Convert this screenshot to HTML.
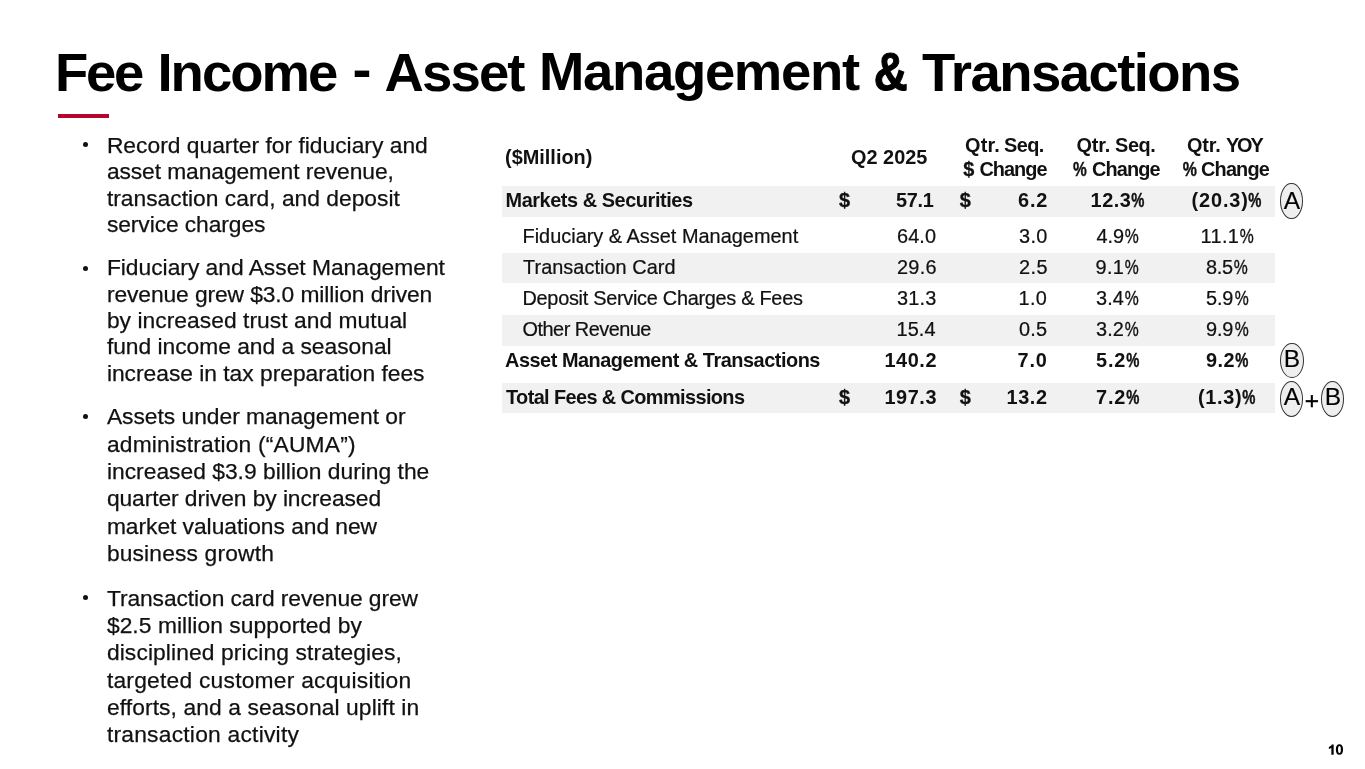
<!DOCTYPE html>
<html lang="en"><head><meta charset="utf-8"><title>Fee Income - Asset Management &amp; Transactions</title>
<style>
html,body{margin:0;padding:0;background:#fff;}
body{width:1365px;height:769px;overflow:hidden;font-family:"Liberation Sans",sans-serif;}
#s{position:absolute;left:0;top:0;width:1365px;height:769px;overflow:hidden;background:#fff;will-change:transform;}
.t{position:absolute;white-space:pre;margin:0;padding:0;}
.g{position:absolute;background:#f1f1f1;}
.dot{position:absolute;width:5px;height:5px;border-radius:50%;background:#111;}
.bar{position:absolute;left:58px;top:114px;width:51px;height:4px;background:#b5052d;}
.e{position:absolute;box-sizing:border-box;border:1.3px solid #333;border-radius:50%;background:#eee;}
</style></head><body><div id="s">
<div class="g" style="left:502px;top:185.9px;width:772.8px;height:30.9px"></div>
<div class="g" style="left:502px;top:252.8px;width:772.8px;height:30.6px"></div>
<div class="g" style="left:502px;top:315.4px;width:772.8px;height:30.6px"></div>
<div class="g" style="left:502px;top:382.8px;width:772.8px;height:29.9px"></div>
<div class="bar"></div>
<div class="dot" style="left:82.9px;top:142px"></div>
<div class="dot" style="left:82.9px;top:265.8px"></div>
<div class="dot" style="left:82.9px;top:413.8px"></div>
<div class="dot" style="left:82.9px;top:595.2px"></div>
<div class="e" style="left:1280.2px;top:183.1px;width:22.4px;height:35.8px"></div>
<div class="e" style="left:1280.2px;top:342.9px;width:23.6px;height:35.4px"></div>
<div class="e" style="left:1279.9px;top:381.1px;width:23.2px;height:35.8px"></div>
<div class="e" style="left:1321.1px;top:381.2px;width:23px;height:35.6px"></div>
<svg style="position:absolute;left:1324px;top:740px" width="24" height="20" viewBox="1324 740 24 20"><path d="M1331.35 744.4h2.3v10.3h-2.3v-7.0c-.7.6-1.5 1.0-2.5 1.3v-1.9c.6-.2 1.2-.5 1.8-1.0.5-.5.9-1.0 1.1-1.7z" fill="#000"/><path fill-rule="evenodd" fill="#000" d="M1339.45 744.25c2.45 0 3.6 1.95 3.6 5.3s-1.2 5.3-3.6 5.3-3.6-1.95-3.6-5.3 1.15-5.3 3.6-5.3zm0 1.75c-1.0 0-1.4 1.2-1.4 3.55s.4 3.55 1.4 3.55 1.4-1.2 1.4-3.55-.4-3.55-1.4-3.55z"/></svg>
<div class="t" style="left:55px;top:40px;font-size:54.5px;line-height:65px;font-weight:700;color:#000;letter-spacing:-2.331px;">Fee</div>
<div class="t" style="left:157.5px;top:40px;font-size:54.5px;line-height:65px;font-weight:700;color:#000;letter-spacing:-2.023px;">Income</div>
<div class="t" style="left:353.25px;top:37px;font-size:54.5px;line-height:65px;font-weight:700;color:#000;transform:scaleX(1.045);">-</div>
<div class="t" style="left:384.5px;top:40px;font-size:54.5px;line-height:65px;font-weight:700;color:#000;letter-spacing:-1.862px;">Asset</div>
<div class="t" style="left:539px;top:39px;font-size:54.5px;line-height:65px;font-weight:700;color:#000;letter-spacing:-1.344px;">Management</div>
<div class="t" style="left:870.5px;top:39px;font-size:54.5px;line-height:65px;font-weight:700;color:#000;transform:scaleX(0.861);-webkit-text-stroke:1.14px #000;">&amp;</div>
<div class="t" style="left:922px;top:40px;font-size:54.5px;line-height:65px;font-weight:700;color:#000;letter-spacing:-1.554px;">Transactions</div>
<div class="t" style="left:106.9px;top:132px;font-size:22.8px;line-height:27px;font-weight:400;color:#111;letter-spacing:0.009px;-webkit-text-stroke:0.25px #111;">Record quarter for fiduciary and</div>
<div class="t" style="left:106.9px;top:158px;font-size:22.8px;line-height:27px;font-weight:400;color:#111;letter-spacing:-0.083px;-webkit-text-stroke:0.25px #111;">asset management revenue,</div>
<div class="t" style="left:106.9px;top:185px;font-size:22.8px;line-height:27px;font-weight:400;color:#111;letter-spacing:0.007px;-webkit-text-stroke:0.25px #111;">transaction card, and deposit</div>
<div class="t" style="left:106.9px;top:211px;font-size:22.8px;line-height:27px;font-weight:400;color:#111;letter-spacing:-0.079px;-webkit-text-stroke:0.25px #111;">service charges</div>
<div class="t" style="left:106.9px;top:254px;font-size:22.8px;line-height:27px;font-weight:400;color:#111;letter-spacing:-0.010px;-webkit-text-stroke:0.25px #111;">Fiduciary and Asset Management</div>
<div class="t" style="left:106.9px;top:281px;font-size:22.8px;line-height:27px;font-weight:400;color:#111;letter-spacing:-0.090px;-webkit-text-stroke:0.25px #111;">revenue grew $3.0 million driven</div>
<div class="t" style="left:106.9px;top:307px;font-size:22.8px;line-height:27px;font-weight:400;color:#111;letter-spacing:0.044px;-webkit-text-stroke:0.25px #111;">by increased trust and mutual</div>
<div class="t" style="left:106.9px;top:333px;font-size:22.8px;line-height:27px;font-weight:400;color:#111;letter-spacing:-0.017px;-webkit-text-stroke:0.25px #111;">fund income and a seasonal</div>
<div class="t" style="left:106.9px;top:360px;font-size:22.8px;line-height:27px;font-weight:400;color:#111;letter-spacing:-0.015px;-webkit-text-stroke:0.25px #111;">increase in tax preparation fees</div>
<div class="t" style="left:106.9px;top:403px;font-size:22.8px;line-height:27px;font-weight:400;color:#111;letter-spacing:-0.014px;-webkit-text-stroke:0.25px #111;">Assets under management or</div>
<div class="t" style="left:106.9px;top:431px;font-size:22.8px;line-height:27px;font-weight:400;color:#111;letter-spacing:0.191px;-webkit-text-stroke:0.25px #111;">administration (“AUMA”)</div>
<div class="t" style="left:106.9px;top:458px;font-size:22.8px;line-height:27px;font-weight:400;color:#111;letter-spacing:0.015px;-webkit-text-stroke:0.25px #111;">increased $3.9 billion during the</div>
<div class="t" style="left:106.9px;top:485px;font-size:22.8px;line-height:27px;font-weight:400;color:#111;letter-spacing:-0.078px;-webkit-text-stroke:0.25px #111;">quarter driven by increased</div>
<div class="t" style="left:106.9px;top:513px;font-size:22.8px;line-height:27px;font-weight:400;color:#111;letter-spacing:-0.041px;-webkit-text-stroke:0.25px #111;">market valuations and new</div>
<div class="t" style="left:106.9px;top:540px;font-size:22.8px;line-height:27px;font-weight:400;color:#111;letter-spacing:0.156px;-webkit-text-stroke:0.25px #111;">business growth</div>
<div class="t" style="left:106.9px;top:585px;font-size:22.8px;line-height:27px;font-weight:400;color:#111;letter-spacing:-0.081px;-webkit-text-stroke:0.25px #111;">Transaction card revenue grew</div>
<div class="t" style="left:106.9px;top:612px;font-size:22.8px;line-height:27px;font-weight:400;color:#111;letter-spacing:0.062px;-webkit-text-stroke:0.25px #111;">$2.5 million supported by</div>
<div class="t" style="left:106.9px;top:639px;font-size:22.8px;line-height:27px;font-weight:400;color:#111;letter-spacing:0.116px;-webkit-text-stroke:0.25px #111;">disciplined pricing strategies,</div>
<div class="t" style="left:106.9px;top:667px;font-size:22.8px;line-height:27px;font-weight:400;color:#111;letter-spacing:0.232px;-webkit-text-stroke:0.25px #111;">targeted customer acquisition</div>
<div class="t" style="left:106.9px;top:694px;font-size:22.8px;line-height:27px;font-weight:400;color:#111;letter-spacing:0.109px;-webkit-text-stroke:0.25px #111;">efforts, and a seasonal uplift in</div>
<div class="t" style="left:106.9px;top:721px;font-size:22.8px;line-height:27px;font-weight:400;color:#111;letter-spacing:0.234px;-webkit-text-stroke:0.25px #111;">transaction activity</div>
<div class="t" style="left:505px;top:145px;font-size:19.9px;line-height:24px;font-weight:700;color:#111;letter-spacing:0.011px;">($Million)</div>
<div class="t" style="left:505.5px;top:188px;font-size:19.9px;line-height:24px;font-weight:700;color:#111;letter-spacing:-0.433px;">Markets &amp; Securities</div>
<div class="t" style="left:522.5px;top:224px;font-size:19.9px;line-height:24px;font-weight:400;color:#111;letter-spacing:0.015px;-webkit-text-stroke:0.22px #111;">Fiduciary &amp; Asset Management</div>
<div class="t" style="left:523px;top:255px;font-size:19.9px;line-height:24px;font-weight:400;color:#111;letter-spacing:0.049px;-webkit-text-stroke:0.22px #111;">Transaction Card</div>
<div class="t" style="left:522.5px;top:286px;font-size:19.9px;line-height:24px;font-weight:400;color:#111;letter-spacing:-0.282px;-webkit-text-stroke:0.22px #111;">Deposit Service Charges &amp; Fees</div>
<div class="t" style="left:522.5px;top:317px;font-size:19.9px;line-height:24px;font-weight:400;color:#111;letter-spacing:-0.499px;-webkit-text-stroke:0.22px #111;">Other Revenue</div>
<div class="t" style="left:505px;top:348px;font-size:19.9px;line-height:24px;font-weight:700;color:#111;letter-spacing:-0.467px;">Asset Management &amp; Transactions</div>
<div class="t" style="left:506px;top:385px;font-size:19.9px;line-height:24px;font-weight:700;color:#111;letter-spacing:-0.598px;">Total Fees &amp; Commissions</div>
<div class="t" style="left:851px;top:145px;font-size:19.9px;line-height:24px;font-weight:700;color:#111;letter-spacing:0.012px;">Q2 2025</div>
<div class="t" style="left:965px;top:133px;font-size:19.9px;line-height:24px;font-weight:700;color:#111;letter-spacing:0.181px;">Qtr.</div>
<div class="t" style="left:1004px;top:133px;font-size:19.9px;line-height:24px;font-weight:700;color:#111;letter-spacing:-0.540px;">Seq.</div>
<div class="t" style="left:963.25px;top:157px;font-size:19.9px;line-height:24px;font-weight:700;color:#111;-webkit-text-stroke:0.3px #111;">$</div>
<div class="t" style="left:979.5px;top:157px;font-size:19.9px;line-height:24px;font-weight:700;color:#111;letter-spacing:-0.991px;">Change</div>
<div class="t" style="left:1076.5px;top:133px;font-size:19.9px;line-height:24px;font-weight:700;color:#111;letter-spacing:-0.133px;">Qtr.</div>
<div class="t" style="left:1115px;top:133px;font-size:19.9px;line-height:24px;font-weight:700;color:#111;letter-spacing:-0.373px;">Seq.</div>
<div class="t" style="left:1071px;top:157px;font-size:19.9px;line-height:24px;font-weight:700;color:#111;transform:scaleX(0.777);-webkit-text-stroke:0.42px #111;">%</div>
<div class="t" style="left:1092px;top:157px;font-size:19.9px;line-height:24px;font-weight:700;color:#111;letter-spacing:-0.899px;">Change</div>
<div class="t" style="left:1187px;top:133px;font-size:19.9px;line-height:24px;font-weight:700;color:#111;letter-spacing:-0.139px;">Qtr.</div>
<div class="t" style="left:1226px;top:133px;font-size:19.9px;line-height:24px;font-weight:700;color:#111;letter-spacing:-2.149px;">YOY</div>
<div class="t" style="left:1181.25px;top:157px;font-size:19.9px;line-height:24px;font-weight:700;color:#111;transform:scaleX(0.800);-webkit-text-stroke:0.42px #111;">%</div>
<div class="t" style="left:1201px;top:157px;font-size:19.9px;line-height:24px;font-weight:700;color:#111;letter-spacing:-0.819px;">Change</div>
<div class="t" style="left:839px;top:188px;font-size:19.9px;line-height:24px;font-weight:700;color:#111;-webkit-text-stroke:0.3px #111;">$</div>
<div class="t" style="left:896px;top:188px;font-size:19.9px;line-height:24px;font-weight:700;color:#111;letter-spacing:-0.264px;">57.1</div>
<div class="t" style="left:959.75px;top:188px;font-size:19.9px;line-height:24px;font-weight:700;color:#111;-webkit-text-stroke:0.3px #111;">$</div>
<div class="t" style="left:1018px;top:188px;font-size:19.9px;line-height:24px;font-weight:700;color:#111;letter-spacing:0.856px;">6.2</div>
<div class="t" style="left:1090.5px;top:188px;font-size:19.9px;line-height:24px;font-weight:700;color:#111;letter-spacing:0.570px;">12.3</div>
<div class="t" style="left:1129.25px;top:188px;font-size:19.9px;line-height:24px;font-weight:700;color:#111;transform:scaleX(0.743);-webkit-text-stroke:0.42px #111;">%</div>
<div class="t" style="left:1191.5px;top:188px;font-size:19.9px;line-height:24px;font-weight:700;color:#111;letter-spacing:0.881px;">(20.3)</div>
<div class="t" style="left:1245.75px;top:188px;font-size:19.9px;line-height:24px;font-weight:700;color:#111;transform:scaleX(0.743);-webkit-text-stroke:0.42px #111;">%</div>
<div class="t" style="left:897px;top:224px;font-size:19.9px;line-height:24px;font-weight:400;color:#111;letter-spacing:0.103px;-webkit-text-stroke:0.22px #111;">64.0</div>
<div class="t" style="left:1019px;top:224px;font-size:19.9px;line-height:24px;font-weight:400;color:#111;letter-spacing:0.366px;-webkit-text-stroke:0.22px #111;">3.0</div>
<div class="t" style="left:1096.5px;top:224px;font-size:19.9px;line-height:24px;font-weight:400;color:#111;letter-spacing:-0.104px;-webkit-text-stroke:0.22px #111;">4.9</div>
<div class="t" style="left:1123.25px;top:224px;font-size:19.9px;line-height:24px;font-weight:400;color:#111;transform:scaleX(0.790);-webkit-text-stroke:0.35px #111;">%</div>
<div class="t" style="left:1200.5px;top:224px;font-size:19.9px;line-height:24px;font-weight:400;color:#111;letter-spacing:0.395px;-webkit-text-stroke:0.22px #111;">11.1</div>
<div class="t" style="left:1238.25px;top:224px;font-size:19.9px;line-height:24px;font-weight:400;color:#111;transform:scaleX(0.790);-webkit-text-stroke:0.35px #111;">%</div>
<div class="t" style="left:897px;top:255px;font-size:19.9px;line-height:24px;font-weight:400;color:#111;letter-spacing:0.263px;-webkit-text-stroke:0.22px #111;">29.6</div>
<div class="t" style="left:1019px;top:255px;font-size:19.9px;line-height:24px;font-weight:400;color:#111;letter-spacing:0.416px;-webkit-text-stroke:0.22px #111;">2.5</div>
<div class="t" style="left:1095.5px;top:255px;font-size:19.9px;line-height:24px;font-weight:400;color:#111;letter-spacing:0.346px;-webkit-text-stroke:0.22px #111;">9.1</div>
<div class="t" style="left:1123.25px;top:255px;font-size:19.9px;line-height:24px;font-weight:400;color:#111;transform:scaleX(0.790);-webkit-text-stroke:0.35px #111;">%</div>
<div class="t" style="left:1206px;top:255px;font-size:19.9px;line-height:24px;font-weight:400;color:#111;letter-spacing:-0.354px;-webkit-text-stroke:0.22px #111;">8.5</div>
<div class="t" style="left:1232.25px;top:255px;font-size:19.9px;line-height:24px;font-weight:400;color:#111;transform:scaleX(0.790);-webkit-text-stroke:0.35px #111;">%</div>
<div class="t" style="left:897px;top:286px;font-size:19.9px;line-height:24px;font-weight:400;color:#111;letter-spacing:0.230px;-webkit-text-stroke:0.22px #111;">31.3</div>
<div class="t" style="left:1018.5px;top:286px;font-size:19.9px;line-height:24px;font-weight:400;color:#111;letter-spacing:0.386px;-webkit-text-stroke:0.22px #111;">1.0</div>
<div class="t" style="left:1096px;top:286px;font-size:19.9px;line-height:24px;font-weight:400;color:#111;letter-spacing:0.116px;-webkit-text-stroke:0.22px #111;">3.4</div>
<div class="t" style="left:1123.25px;top:286px;font-size:19.9px;line-height:24px;font-weight:400;color:#111;transform:scaleX(0.790);-webkit-text-stroke:0.35px #111;">%</div>
<div class="t" style="left:1206px;top:286px;font-size:19.9px;line-height:24px;font-weight:400;color:#111;letter-spacing:-0.134px;-webkit-text-stroke:0.22px #111;">5.9</div>
<div class="t" style="left:1232.75px;top:286px;font-size:19.9px;line-height:24px;font-weight:400;color:#111;transform:scaleX(0.790);-webkit-text-stroke:0.35px #111;">%</div>
<div class="t" style="left:896.5px;top:317px;font-size:19.9px;line-height:24px;font-weight:400;color:#111;letter-spacing:0.103px;-webkit-text-stroke:0.22px #111;">15.4</div>
<div class="t" style="left:1019px;top:317px;font-size:19.9px;line-height:24px;font-weight:400;color:#111;letter-spacing:0.156px;-webkit-text-stroke:0.22px #111;">0.5</div>
<div class="t" style="left:1096px;top:317px;font-size:19.9px;line-height:24px;font-weight:400;color:#111;letter-spacing:0.116px;-webkit-text-stroke:0.22px #111;">3.2</div>
<div class="t" style="left:1123.25px;top:317px;font-size:19.9px;line-height:24px;font-weight:400;color:#111;transform:scaleX(0.790);-webkit-text-stroke:0.35px #111;">%</div>
<div class="t" style="left:1206px;top:317px;font-size:19.9px;line-height:24px;font-weight:400;color:#111;letter-spacing:-0.134px;-webkit-text-stroke:0.22px #111;">9.9</div>
<div class="t" style="left:1232.75px;top:317px;font-size:19.9px;line-height:24px;font-weight:400;color:#111;transform:scaleX(0.790);-webkit-text-stroke:0.35px #111;">%</div>
<div class="t" style="left:884.5px;top:348px;font-size:19.9px;line-height:24px;font-weight:700;color:#111;letter-spacing:0.542px;">140.2</div>
<div class="t" style="left:1017.5px;top:348px;font-size:19.9px;line-height:24px;font-weight:700;color:#111;letter-spacing:0.876px;">7.0</div>
<div class="t" style="left:1096px;top:348px;font-size:19.9px;line-height:24px;font-weight:700;color:#111;letter-spacing:0.876px;">5.2</div>
<div class="t" style="left:1123.75px;top:348px;font-size:19.9px;line-height:24px;font-weight:700;color:#111;transform:scaleX(0.743);-webkit-text-stroke:0.42px #111;">%</div>
<div class="t" style="left:1206px;top:348px;font-size:19.9px;line-height:24px;font-weight:700;color:#111;letter-spacing:0.396px;">9.2</div>
<div class="t" style="left:1232.75px;top:348px;font-size:19.9px;line-height:24px;font-weight:700;color:#111;transform:scaleX(0.743);-webkit-text-stroke:0.42px #111;">%</div>
<div class="t" style="left:839px;top:385px;font-size:19.9px;line-height:24px;font-weight:700;color:#111;-webkit-text-stroke:0.3px #111;">$</div>
<div class="t" style="left:884.5px;top:385px;font-size:19.9px;line-height:24px;font-weight:700;color:#111;letter-spacing:0.542px;">197.3</div>
<div class="t" style="left:959.75px;top:385px;font-size:19.9px;line-height:24px;font-weight:700;color:#111;-webkit-text-stroke:0.3px #111;">$</div>
<div class="t" style="left:1006.5px;top:385px;font-size:19.9px;line-height:24px;font-weight:700;color:#111;letter-spacing:0.576px;">13.2</div>
<div class="t" style="left:1096px;top:385px;font-size:19.9px;line-height:24px;font-weight:700;color:#111;letter-spacing:0.876px;">7.2</div>
<div class="t" style="left:1123.75px;top:385px;font-size:19.9px;line-height:24px;font-weight:700;color:#111;transform:scaleX(0.743);-webkit-text-stroke:0.42px #111;">%</div>
<div class="t" style="left:1198px;top:385px;font-size:19.9px;line-height:24px;font-weight:700;color:#111;letter-spacing:0.651px;">(1.3)</div>
<div class="t" style="left:1240.25px;top:385px;font-size:19.9px;line-height:24px;font-weight:700;color:#111;transform:scaleX(0.743);-webkit-text-stroke:0.42px #111;">%</div>
<div class="t" style="left:1283.75px;top:186px;font-size:24.5px;line-height:29px;font-weight:400;color:#000;-webkit-text-stroke:0.15px #000;">A</div>
<div class="t" style="left:1283.75px;top:344px;font-size:24.5px;line-height:29px;font-weight:400;color:#000;-webkit-text-stroke:0.15px #000;">B</div>
<div class="t" style="left:1283.75px;top:382px;font-size:24.5px;line-height:29px;font-weight:400;color:#000;-webkit-text-stroke:0.15px #000;">A</div>
<div class="t" style="left:1304.75px;top:386px;font-size:24.5px;line-height:29px;font-weight:400;color:#000;-webkit-text-stroke:0.45px #000;">+</div>
<div class="t" style="left:1324.75px;top:382px;font-size:24.5px;line-height:29px;font-weight:400;color:#000;-webkit-text-stroke:0.15px #000;">B</div>
</div></body></html>
